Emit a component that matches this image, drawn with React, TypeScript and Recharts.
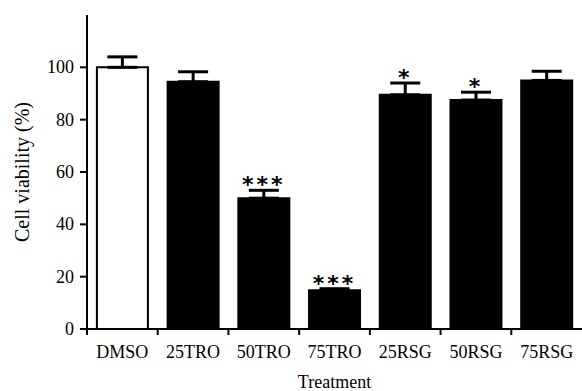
import { Bar, BarChart, Cell, ErrorBar, LabelList, Label, XAxis, YAxis } from "recharts";

const categories = ["DMSO", "25TRO", "50TRO", "75TRO", "25RSG", "50RSG", "75RSG"];
const viability = [100, 94.5, 50, 14.8, 89.5, 87.5, 95];
const sem = [4, 3.8, 3, 0.6, 4.5, 3, 3.5];
const significance = ["", "", "***", "***", "*", "*", ""];
const yTicks = [0, 20, 40, 60, 80, 100];

const W = 582;
const H = 391;
const Y_AXIS_W = 87;
const SERIF = "'Liberation Serif', 'Times New Roman', serif";

const data = categories.map((name, i) => ({
  name,
  value: viability[i],
  err: [0, sem[i]],
  sig: significance[i],
}));

// the original puts the x ticks between the bars, so draw them ourselves
function CategoryTick(props: any) {
  const { x, y, payload } = props;
  const half = (W - Y_AXIS_W) / categories.length / 2;
  return (
    <g>
      <line x1={x - half} y1={y} x2={x - half} y2={y + 6} stroke="#000" strokeWidth={2} />
      <text x={x} y={y + 29} textAnchor="middle" fontFamily={SERIF} fontSize={18} fill="#000">
        {payload.value}
      </text>
    </g>
  );
}

function ValueTick(props: any) {
  const { x, y, payload } = props;
  return (
    <text x={x} y={y + 6} textAnchor="end" fontFamily={SERIF} fontSize={18} fill="#000">
      {payload.value}
    </text>
  );
}

function Stars(props: any) {
  const { x, y, width, height, value, index } = props;
  if (!value) return null;
  const perUnit = height / viability[index];
  const top = y - sem[index] * perUnit;
  return (
    <text
      x={x + width / 2}
      y={top + 2}
      textAnchor="middle"
      fontFamily="'DejaVu Sans', sans-serif"
      fontWeight="bold"
      fontSize={22}
      letterSpacing={3}
      fill="#000"
    >
      {value}
    </text>
  );
}

export default function App() {
  return (
    <div style={{ position: "absolute", left: 0, top: 0, background: "#fff", fontFamily: SERIF }}>
      <BarChart
        width={W}
        height={H}
        data={data}
        margin={{ top: 15, right: 0, left: 0, bottom: 0 }}
        barCategoryGap="14%"
        style={{ fontFamily: SERIF }}
      >
        <XAxis
          dataKey="name"
          height={62}
          axisLine={{ stroke: "#000", strokeWidth: 2 }}
          tickLine={false}
          tickSize={0}
          tickMargin={0}
          interval={0}
          tick={<CategoryTick />}
        >
          <Label
            value="Treatment"
            position="insideBottom"
            offset={3}
            fontFamily={SERIF}
            fontSize={18}
            fill="#000"
          />
        </XAxis>
        <YAxis
          width={Y_AXIS_W}
          domain={[0, 120]}
          ticks={yTicks}
          axisLine={{ stroke: "#000", strokeWidth: 2 }}
          tickLine={{ stroke: "#000", strokeWidth: 2 }}
          tickSize={7}
          tickMargin={6}
          tick={<ValueTick />}
        >
          <Label
            value="Cell viability (%)"
            angle={-90}
            position="insideLeft"
            offset={22}
            fontFamily={SERIF}
            fontSize={20}
            fill="#000"
            style={{ textAnchor: "middle" }}
          />
        </YAxis>
        <Bar dataKey="value" isAnimationActive={false} stroke="#000" strokeWidth={2}>
          {data.map((d, i) => (
            <Cell key={d.name} fill={i === 0 ? "#fff" : "#000"} />
          ))}
          <ErrorBar dataKey="err" direction="y" width={15} stroke="#000" strokeWidth={3} />
          <LabelList dataKey="sig" content={<Stars />} />
        </Bar>
      </BarChart>
    </div>
  );
}
